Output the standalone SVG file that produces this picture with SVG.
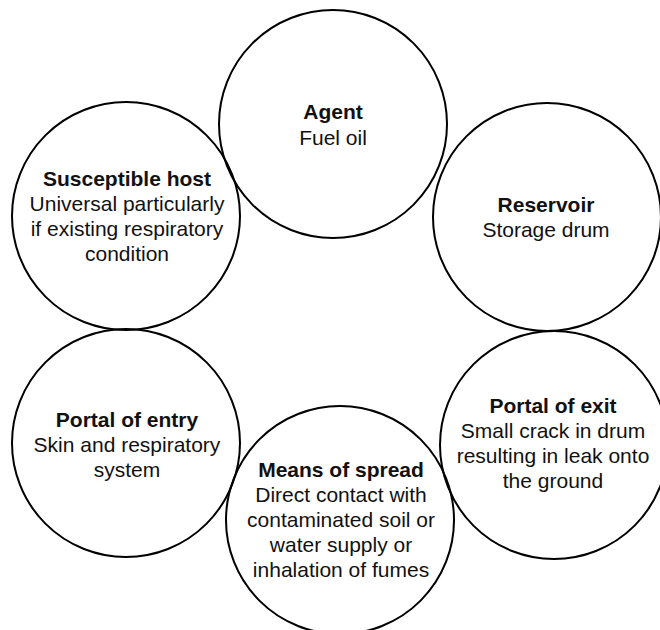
<svg xmlns="http://www.w3.org/2000/svg" width="660" height="630" viewBox="0 0 660 630">
  <style>
    .ring { fill: none; stroke: #000; stroke-width: 2; }
    text { font-family: "Liberation Sans", Arial, Helvetica, sans-serif; font-size: 21px; fill: #111; text-anchor: middle; }
    .title { font-weight: bold; }
  </style>
  <rect width="660" height="630" fill="#fff"/>
  <g id="connectors"></g>
  <g id="agent">
    <circle class="ring" cx="333" cy="124" r="114"/>
    <text class="title" x="333" y="119">Agent</text>
    <text x="333" y="145">Fuel oil</text>
  </g>
  <g id="reservoir">
    <circle class="ring" cx="547" cy="217" r="114"/>
    <text class="title" x="546" y="212">Reservoir</text>
    <text x="546" y="237">Storage drum</text>
  </g>
  <g id="portal-of-exit">
    <circle class="ring" cx="554" cy="445" r="114"/>
    <text class="title" x="553" y="413">Portal of exit</text>
    <text x="553" y="438">Small crack in drum</text>
    <text x="553" y="463">resulting in leak onto</text>
    <text x="553" y="488">the ground</text>
  </g>
  <g id="means-of-spread">
    <circle class="ring" cx="340" cy="520" r="114"/>
    <text class="title" x="341" y="477">Means of spread</text>
    <text x="341" y="502">Direct contact with</text>
    <text x="341" y="527">contaminated soil or</text>
    <text x="341" y="552">water supply or</text>
    <text x="341" y="577">inhalation of fumes</text>
  </g>
  <g id="portal-of-entry">
    <circle class="ring" cx="126" cy="443" r="114"/>
    <text class="title" x="127" y="427">Portal of entry</text>
    <text x="127" y="452">Skin and respiratory</text>
    <text x="127" y="477">system</text>
  </g>
  <g id="susceptible-host">
    <circle class="ring" cx="126" cy="216" r="114"/>
    <text class="title" x="127" y="186">Susceptible host</text>
    <text x="127" y="211">Universal particularly</text>
    <text x="127" y="236">if existing respiratory</text>
    <text x="127" y="261">condition</text>
  </g>
</svg>
